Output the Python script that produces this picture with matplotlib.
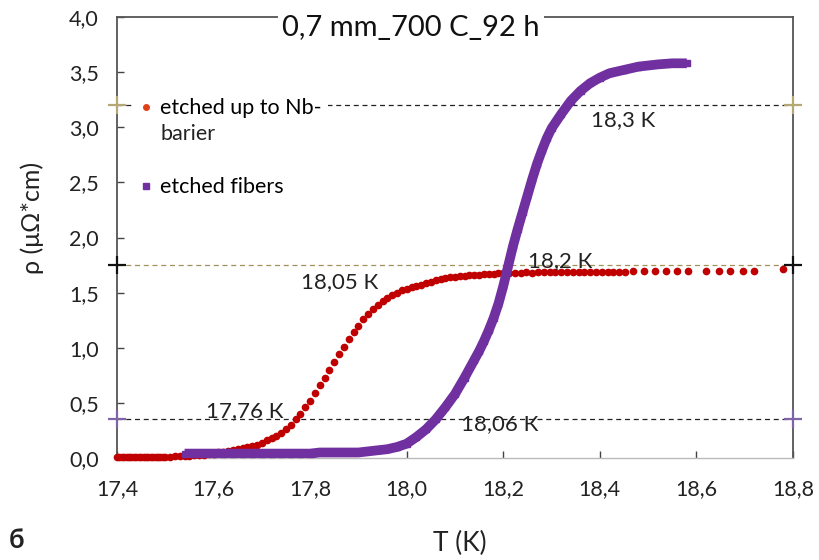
import matplotlib
matplotlib.use("Agg")
import matplotlib.pyplot as plt
from matplotlib.lines import Line2D

plt.rcParams['font.family'] = ['Lato', 'DejaVu Sans']

# ---- data ----
red_T = [17.400, 17.405, 17.410, 17.415, 17.420, 17.425, 17.430, 17.435, 17.440, 17.445,
         17.450, 17.455, 17.460, 17.465, 17.470, 17.475, 17.480, 17.485, 17.490, 17.495,
         17.500, 17.510, 17.520, 17.530, 17.540, 17.550, 17.560, 17.570, 17.580, 17.590,
         17.600, 17.610, 17.620, 17.630, 17.640, 17.650, 17.660, 17.670, 17.680, 17.690,
         17.700, 17.710, 17.720, 17.730, 17.740, 17.750, 17.760, 17.770, 17.780, 17.790,
         17.800, 17.810, 17.820, 17.830, 17.840, 17.850, 17.860, 17.870, 17.880, 17.890,
         17.900, 17.910, 17.920, 17.930, 17.940, 17.950, 17.960, 17.970, 17.980, 17.990,
         18.000, 18.010, 18.020, 18.030, 18.040, 18.050, 18.060, 18.070, 18.080, 18.090,
         18.100, 18.110, 18.120, 18.130, 18.140, 18.150, 18.160, 18.170, 18.180, 18.190,
         18.200, 18.212, 18.224, 18.236, 18.248, 18.260, 18.272, 18.284, 18.296, 18.308,
         18.320, 18.332, 18.344, 18.356, 18.368, 18.380, 18.392, 18.404, 18.416, 18.428,
         18.440, 18.452, 18.468, 18.491, 18.514, 18.537, 18.560, 18.583, 18.620, 18.647,
         18.670, 18.696, 18.720, 18.780]
red_rho = [0.01, 0.01, 0.01, 0.01, 0.01, 0.01, 0.01, 0.01, 0.01, 0.01,
           0.01, 0.01, 0.01, 0.01, 0.01, 0.01, 0.01, 0.01, 0.01, 0.01,
           0.01, 0.01, 0.02, 0.02, 0.02, 0.02, 0.03, 0.03, 0.03, 0.04,
           0.04, 0.05, 0.05, 0.06, 0.07, 0.08, 0.09, 0.10, 0.11, 0.12,
           0.14, 0.16, 0.18, 0.20, 0.23, 0.26, 0.30, 0.35, 0.40, 0.46,
           0.52, 0.59, 0.66, 0.73, 0.80, 0.87, 0.94, 1.01, 1.08, 1.14,
           1.20, 1.26, 1.31, 1.35, 1.39, 1.42, 1.45, 1.48, 1.50, 1.52,
           1.53, 1.55, 1.56, 1.57, 1.59, 1.60, 1.61, 1.62, 1.63, 1.64,
           1.64, 1.65, 1.65, 1.66, 1.66, 1.66, 1.67, 1.67, 1.67, 1.68,
           1.68, 1.68, 1.68, 1.68, 1.69, 1.68, 1.69, 1.69, 1.69, 1.69,
           1.69, 1.69, 1.69, 1.69, 1.69, 1.69, 1.69, 1.69, 1.69, 1.69,
           1.69, 1.69, 1.70, 1.70, 1.70, 1.70, 1.70, 1.70, 1.70, 1.70,
           1.70, 1.70, 1.70, 1.71]

pur_T = [17.54, 17.56, 17.58, 17.60, 17.62, 17.64, 17.66, 17.68, 17.70, 17.72,
         17.74, 17.76, 17.78, 17.80, 17.82, 17.84, 17.86, 17.88, 17.90, 17.92,
         17.94, 17.96, 17.98, 18.00, 18.02, 18.04, 18.06, 18.08, 18.10, 18.12,
         18.14, 18.15, 18.16, 18.17, 18.18, 18.19, 18.20, 18.21, 18.22, 18.23,
         18.24, 18.25, 18.26, 18.27, 18.28, 18.29, 18.30, 18.32, 18.34, 18.36,
         18.38, 18.40, 18.42, 18.45, 18.48, 18.52, 18.55, 18.58]
pur_rho = [0.04, 0.04, 0.04, 0.04, 0.04, 0.04, 0.04, 0.04, 0.04, 0.04,
           0.04, 0.04, 0.04, 0.04, 0.05, 0.05, 0.05, 0.05, 0.05, 0.06,
           0.07, 0.08, 0.10, 0.13, 0.19, 0.26, 0.35, 0.46, 0.58, 0.73,
           0.89, 0.97, 1.06, 1.16, 1.27, 1.40, 1.56, 1.74, 1.92, 2.08,
           2.23, 2.38, 2.53, 2.67, 2.79, 2.90, 2.99, 3.12, 3.24, 3.33,
           3.40, 3.45, 3.49, 3.52, 3.55, 3.57, 3.58, 3.58]

ref_levels = [3.2, 1.75, 0.35]
ref_line_colors = ['#222222', '#A0915A', '#222222']
ref_mark_colors = ['#B5A874', '#111111', '#7F64A8']

annotations = [("18,3 K", 18.448, 3.066), ("18,2 К", 18.317, 1.787),
               ("18,05 К", 17.862, 1.596), ("17,76 К", 17.665, 0.426),
               ("18,06 К", 18.193, 0.308)]

x_ticks = [17.4, 17.6, 17.8, 18.0, 18.2, 18.4, 18.6, 18.8]
y_ticks = [0.0, 0.5, 1.0, 1.5, 2.0, 2.5, 3.0, 3.5, 4.0]

# ---- figure ----
fig = plt.figure(figsize=(8.19, 5.60), dpi=100)
ax = fig.add_axes([117/819, 1-458/560, (793-117)/819, (458-17)/560])
ax.set_xlim(17.4, 18.8)
ax.set_ylim(0, 4.0)

for lvl, lc, mc in zip(ref_levels, ref_line_colors, ref_mark_colors):
    ax.plot([17.4, 18.8], [lvl, lvl], color=lc, lw=0.9, ls=(0, (4, 3)), zorder=1)
    ax.plot([17.4, 18.8], [lvl, lvl], ls='none', marker='+', ms=13, mew=1.6,
            color=mc, zorder=5, clip_on=False)

ax.plot(red_T, red_rho, ls='none', marker='o', ms=4.5, color='#C00000',
        mec='#C00000', zorder=3, clip_on=False)
ax.plot(pur_T, pur_rho, ls='-', lw=7, color='#7030A0', marker='s', ms=5,
        zorder=4, solid_capstyle='butt', solid_joinstyle='round')

for txt, x, y in annotations:
    ax.text(x, y, txt, fontsize=16, ha='center', va='center', color='#222222', zorder=6)

ax.set_xticks(x_ticks)
ax.set_xticklabels([f"{v:.1f}".replace('.', ',') for v in x_ticks])
ax.set_yticks(y_ticks)
ax.set_yticklabels([f"{v:.1f}".replace('.', ',') for v in y_ticks])
ax.tick_params(axis='both', direction='in', length=5, width=1, labelsize=15.5,
               colors='#444444', labelcolor='#222222')
ax.tick_params(axis='x', pad=15)
ax.tick_params(axis='y', pad=13)

for side in ['left', 'top', 'right']:
    ax.spines[side].set_color('#555555')
    ax.spines[side].set_linewidth(1.3)
ax.spines['bottom'].set_color('#BBBBBB')
ax.spines['bottom'].set_linewidth(1.0)

ax.text(0.435, 0.976, "0,7 mm_700 C_92 h", transform=ax.transAxes, fontsize=21,
        ha='center', va='center', color='#111111', zorder=10,
        bbox=dict(facecolor='white', edgecolor='none', pad=3))

handles = [Line2D([], [], ls='none', marker='o', ms=4, color='#E0401A'),
           Line2D([], [], ls='none', marker='s', ms=5, color='#7030A0')]
leg = ax.legend(handles, ["etched up to Nb-", "etched fibers"],
                loc='upper left', bbox_to_anchor=(0.008, 0.855), fontsize=15.5,
                frameon=True, facecolor='white', edgecolor='none', framealpha=1,
                handlelength=0.6, handletextpad=0.35, labelspacing=2.75,
                borderpad=0.3)
leg.set_zorder(8)

fig.canvas.draw()
bb = leg.get_texts()[0].get_window_extent()
fig.text(bb.x0 / 819, (bb.y0 - 26) / 560, "barier", fontsize=15.5,
         ha='left', va='bottom', color='#222222', zorder=11)

fig.text(460/819, 1-543/560, "T (K)", fontsize=19, ha='center', va='center', color='#222222')
fig.text(32/819, 1-218/560, "ρ (μΩ*cm)", fontsize=18, ha='center', va='center',
         rotation=90, color='#222222')
fig.text(16/819, 1-540/560, "б", fontsize=19, fontweight='bold', ha='center',
         va='center', color='#222222')

fig.savefig("out.png", dpi=100)
